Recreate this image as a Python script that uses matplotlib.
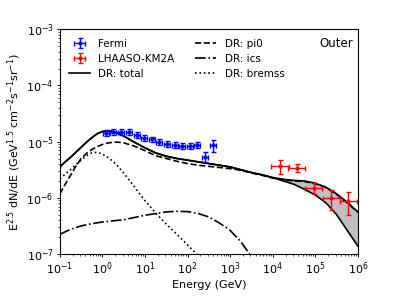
import numpy as np
import matplotlib
matplotlib.use("Agg")
import matplotlib.pyplot as plt

# ---------------- data ----------------
# model curves: log10(E/GeV) grid and log10 of E^2.5 dN/dE
model_logE = [-1.0, -0.875, -0.75, -0.625, -0.5, -0.375, -0.25, -0.125, 0.0, 0.125, 0.25,
              0.375, 0.5, 0.625, 0.75, 0.875, 1.0, 1.25, 1.5, 1.75,
              2.0, 2.25, 2.5, 2.75, 3.0, 3.25, 3.5, 3.75, 4.0, 4.25, 4.5, 4.75,
              5.0, 5.25, 5.5, 5.75, 6.0]
total_upper_log = [-5.45, -5.36, -5.28, -5.19, -5.10, -5.01, -4.93, -4.86, -4.82, -4.805, -4.82,
                   -4.855, -4.90, -4.955, -5.01, -5.06, -5.11, -5.20, -5.26, -5.30,
                   -5.33, -5.36, -5.39, -5.42, -5.45, -5.50, -5.55, -5.59, -5.64, -5.67, -5.69, -5.70,
                   -5.74, -5.81, -5.93, -6.08, -6.25]
total_lower_log = [-5.45, -5.36, -5.28, -5.19, -5.10, -5.01, -4.93, -4.86, -4.82, -4.805, -4.82,
                   -4.855, -4.90, -4.955, -5.01, -5.06, -5.11, -5.20, -5.26, -5.30,
                   -5.33, -5.36, -5.39, -5.42, -5.45, -5.50, -5.55, -5.59, -5.64, -5.70, -5.76, -5.85,
                   -5.95, -6.09, -6.30, -6.58, -6.86]
pi0_log = [-5.93, -5.76, -5.60, -5.44, -5.30, -5.21, -5.14, -5.09, -5.05, -5.025, -5.01,
           -5.01, -5.02, -5.05, -5.08, -5.12, -5.16, -5.25, -5.30, -5.35,
           -5.39, -5.42, -5.44, -5.46, -5.48, -5.51, -5.56, -5.60, -5.65, -5.68, -5.70, -5.71,
           -5.75, -5.82, -5.94, -6.09, -6.26]
ics_logE = [-1.0, -0.75, -0.5, -0.25, 0.0, 0.25, 0.5, 0.75, 1.0, 1.25, 1.5, 1.75,
            2.0, 2.25, 2.5, 2.75, 3.0, 3.25, 3.5]
ics_log = [-6.65, -6.56, -6.50, -6.46, -6.43, -6.41, -6.39, -6.35, -6.31, -6.28,
           -6.25, -6.24, -6.245, -6.28, -6.34, -6.45, -6.58, -6.78, -7.05]
brem_logE = [-1.0, -0.875, -0.75, -0.625, -0.5, -0.375, -0.25, -0.125, 0.0, 0.125, 0.25,
             0.375, 0.5, 0.625, 0.75, 0.875, 1.0, 1.25, 1.5, 1.75, 2.0, 2.25, 2.5]
brem_log = [-5.66, -5.58, -5.50, -5.41, -5.33, -5.25, -5.20, -5.19, -5.22, -5.28, -5.35,
            -5.45, -5.56, -5.68, -5.80, -5.93, -6.05, -6.27, -6.47, -6.65, -6.84, -7.03, -7.25]

# Fermi data
fermi_E = [1.19, 1.79, 2.71, 4.18, 6.34, 9.40, 14.3, 21.5, 32.7, 49.4, 74.6, 113, 168, 255, 386]
fermi_flux = [1.43e-5, 1.47e-5, 1.49e-5, 1.47e-5, 1.32e-5, 1.18e-5, 1.10e-5, 9.76e-6,
              9.25e-6, 8.88e-6, 8.38e-6, 8.28e-6, 8.63e-6, 5.35e-6, 8.73e-6]
fermi_relerr = [0.12, 0.12, 0.12, 0.12, 0.12, 0.12, 0.12, 0.12, 0.12, 0.12, 0.12, 0.12,
                0.12, 0.20, 0.25]
fermi_bin_dex = 0.07

# LHAASO-KM2A data
lhaaso_E = [1.48e4, 3.7e4, 9.3e4, 2.34e5, 5.9e5]
lhaaso_flux = [3.76e-6, 3.41e-6, 1.52e-6, 9.96e-7, 8.81e-7]
lhaaso_err = [1.05e-6, 0.55e-6, 0.34e-6, 0.39e-6, 0.39e-6]
lhaaso_bin_dex = 0.2

# ---------------- plot ----------------
fig = plt.figure(figsize=(3.99, 2.99), dpi=100)
ax = fig.add_axes([0.150, 0.1505, 0.747, 0.7515])

E = 10 ** np.array(model_logE)
up = 10 ** np.array(total_upper_log)
lo = 10 ** np.array(total_lower_log)

ax.fill_between(E, lo, up, color='#bfbfbf', lw=0)
ax.plot(E, up, 'k-', lw=1.2, label='DR: total')
ax.plot(E, lo, 'k-', lw=1.2)
ax.plot(E, 10 ** np.array(pi0_log), 'k--', lw=1.2, label='DR: pi0')
ax.plot(10 ** np.array(ics_logE), 10 ** np.array(ics_log), 'k-.', lw=1.2, label='DR: ics')
ax.plot(10 ** np.array(brem_logE), 10 ** np.array(brem_log), 'k:', lw=1.2, label='DR: bremss')

fE = np.array(fermi_E)
ff = np.array(fermi_flux)
fxerr = [fE * (1 - 10 ** -fermi_bin_dex), fE * (10 ** fermi_bin_dex - 1)]
fyerr = ff * np.array(fermi_relerr)
ax.errorbar(fE, ff, xerr=fxerr, yerr=fyerr, fmt='o', color='blue', ms=2,
            elinewidth=1, capsize=1.8, capthick=1, label='Fermi')

lE = np.array(lhaaso_E)
lf = np.array(lhaaso_flux)
lxerr = [lE * (1 - 10 ** -lhaaso_bin_dex), lE * (10 ** lhaaso_bin_dex - 1)]
ax.errorbar(lE, lf, xerr=lxerr, yerr=lhaaso_err, fmt='o', color='red', ms=2,
            elinewidth=1, capsize=1.8, capthick=1, label='LHAASO-KM2A')

ax.set_xscale('log')
ax.set_yscale('log')
ax.set_xlim(0.1, 1e6)
ax.set_ylim(1e-7, 1e-3)
ax.set_xticks([10.0 ** k for k in range(-1, 7)])
ax.set_xlabel('Energy (GeV)', fontsize=8, labelpad=2)
ax.set_ylabel(r'E$^{2.5}$ dN/dE (GeV$^{1.5}$ cm$^{-2}$s$^{-1}$sr$^{-1}$)', fontsize=8, labelpad=2)
ax.tick_params(which='major', length=2.5, width=0.7, labelsize=8, pad=2)
ax.tick_params(which='minor', length=1.5, width=0.5)
for s in ax.spines.values():
    s.set_linewidth(0.8)

handles, labels = ax.get_legend_handles_labels()
order = ['Fermi', 'LHAASO-KM2A', 'DR: total', 'DR: pi0', 'DR: ics', 'DR: bremss']
hmap = dict(zip(labels, handles))
ax.legend([hmap[k] for k in order], order, loc='upper left', ncol=2, frameon=False,
          fontsize=7.5)

ax.text(0.985, 0.965, 'Outer', transform=ax.transAxes, ha='right', va='top', fontsize=8.5)

fig.savefig('out.png', dpi=100)
